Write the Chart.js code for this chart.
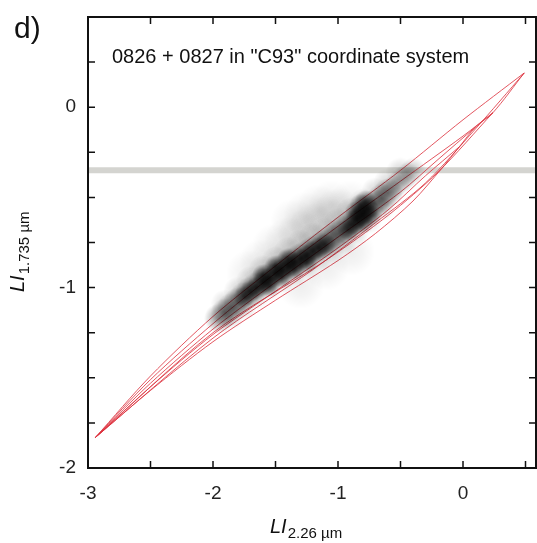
<!DOCTYPE html>
<html>
<head>
<meta charset="utf-8">
<script src="https://cdn.jsdelivr.net/npm/chart.js@4.4.1/dist/chart.umd.min.js"></script>
<style>
  body { margin: 0; background: #fff; }
</style>
</head>
<body>
<canvas id="lichart" width="537" height="543"></canvas>
<script>
// ticks (minor every 0.5 / 0.25, labels only on integers)
var xTicks = [-3, -2.5, -2, -1.5, -1, -0.5, 0, 0.5];
var yTicks = [-2, -1.75, -1.5, -1.25, -1, -0.75, -0.5, -0.25, 0, 0.25, 0.5];
var xLabelValues = [-3, -2, -1, 0];
var yLabelValues = [-2, -1, 0];

// grey reference level
var bandLevel = -0.35;

// red model grid
var modelCurve1 = [[-2.94, -1.83], [-2.5, -1.49], [-2.0, -1.16], [-1.5, -0.88], [-1.0, -0.61], [-0.5, -0.35], [0.0, -0.07], [0.49, 0.19]];
var modelCurve2 = [[-2.94, -1.83], [-2.5, -1.51], [-2.0, -1.2], [-1.5, -0.92], [-1.0, -0.66], [-0.5, -0.41], [0.0, -0.16], [0.24, -0.03]];
var modelCurve3 = [[-2.94, -1.83], [-2.5, -1.53], [-2.0, -1.23], [-1.5, -0.97], [-1.0, -0.72], [-0.5, -0.47], [-0.2, -0.29], [0.1, -0.11]];
var modelCurve4 = [[-2.94, -1.83], [-2.5, -1.55], [-2.0, -1.26], [-1.5, -1.02], [-1.0, -0.78], [-0.6, -0.57], [-0.3, -0.38], [-0.03, -0.22]];
var modelCurve5 = [[-2.94, -1.83], [-2.5, -1.57], [-2.0, -1.3], [-1.5, -1.07], [-1.0, -0.85], [-0.7, -0.7], [-0.4, -0.52], [-0.17, -0.34]];
var modelEdge = [[0.49, 0.19], [0.24, -0.03], [0.1, -0.11], [-0.03, -0.22], [-0.17, -0.34]];
var modelCross1 = [[0.49, 0.19], [0.1, -0.12], [-0.3, -0.42], [-0.7, -0.64], [-1.2, -0.9], [-2.0, -1.28], [-2.94, -1.83]];
var modelCross2 = [[0.24, -0.03], [-0.2, -0.36], [-0.6, -0.6], [-1.1, -0.85], [-2.0, -1.25], [-2.94, -1.83]];

// measurement cloud, sampled by eye along its ridge, its flanks and its faint upper tail
var cloudRidge = [[-1.95, -1.17], [-1.9, -1.14], [-1.85, -1.11], [-1.8, -1.08], [-1.75, -1.05], [-1.7, -1.02], [-1.65, -0.995],
  [-1.6, -0.97], [-1.55, -0.945], [-1.5, -0.92], [-1.45, -0.895], [-1.4, -0.875], [-1.35, -0.855], [-1.3, -0.835],
  [-1.25, -0.815], [-1.2, -0.795], [-1.15, -0.775], [-1.1, -0.755], [-1.05, -0.73], [-1.0, -0.705], [-0.95, -0.68],
  [-0.9, -0.655], [-0.85, -0.625], [-0.8, -0.595], [-0.75, -0.565], [-0.7, -0.535], [-0.65, -0.505], [-0.6, -0.475]];
var cloudTail = [[-0.56, -0.45], [-0.52, -0.425], [-0.48, -0.4], [-0.44, -0.375], [-0.4, -0.35]];
var cloudUpper = [[-1.9, -1.09], [-1.8, -1.02], [-1.7, -0.96], [-1.6, -0.9], [-1.5, -0.85], [-1.4, -0.8], [-1.3, -0.76],
  [-1.2, -0.72], [-1.1, -0.69], [-1.0, -0.64], [-0.9, -0.58], [-0.8, -0.53], [-0.7, -0.47], [-0.6, -0.42], [-0.5, -0.36]];
var cloudLower = [[-1.85, -1.16], [-1.75, -1.11], [-1.65, -1.05], [-1.55, -1.0], [-1.45, -0.96], [-1.35, -0.92], [-1.25, -0.88],
  [-1.15, -0.84], [-1.05, -0.8], [-0.95, -0.75], [-0.85, -0.69], [-0.75, -0.63], [-0.65, -0.56]];
var cloudHaze = [[-1.5, -0.78], [-1.4, -0.74], [-1.3, -0.7], [-1.2, -0.66], [-1.1, -0.62], [-1.0, -0.58], [-0.9, -0.54],
  [-1.35, -0.64], [-1.25, -0.6], [-1.15, -0.56], [-1.05, -0.54], [-1.6, -0.86], [-1.7, -0.92], [-1.3, -0.98],
  [-1.1, -0.88], [-0.9, -0.8]];
var cloudCore = [[-1.75, -1.05], [-1.7, -1.02], [-1.65, -1.0], [-1.6, -0.97], [-1.55, -0.95], [-1.5, -0.92], [-1.45, -0.9],
  [-1.4, -0.88], [-1.35, -0.86], [-1.3, -0.84], [-1.25, -0.82], [-1.2, -0.8], [-1.15, -0.78], [-1.1, -0.76],
  [-1.6, -0.93], [-1.5, -0.88], [-1.4, -0.84], [-1.55, -0.99], [-1.45, -0.94], [-1.35, -0.9], [-1.25, -0.86],
  [-0.92, -0.68], [-0.88, -0.65], [-0.85, -0.62], [-0.82, -0.6], [-0.79, -0.58], [-0.76, -0.56], [-0.8, -0.64],
  [-0.86, -0.58], [-0.82, -0.54], [-0.78, -0.52], [-0.74, -0.6]];

function pts(list) {
  return list.map(function (p) { return { x: p[0], y: p[1] }; });
}

// soft round sprite used as point style for the cloud
function blob(size, alpha) {
  var c = document.createElement('canvas');
  c.width = size; c.height = size;
  var g = c.getContext('2d');
  var grd = g.createRadialGradient(size / 2, size / 2, 0, size / 2, size / 2, size / 2);
  grd.addColorStop(0, 'rgba(0,0,0,' + alpha + ')');
  grd.addColorStop(0.5, 'rgba(0,0,0,' + (alpha * 0.6) + ')');
  grd.addColorStop(1, 'rgba(0,0,0,0)');
  g.fillStyle = grd;
  g.fillRect(0, 0, size, size);
  return c;
}

var red = 'rgba(220, 45, 58, 0.8)';
function curve(list) {
  return {
    data: pts(list), showLine: true, borderColor: red, borderWidth: 1,
    pointRadius: 0, tension: 0.3, order: 4
  };
}

var fontFamily = '"Liberation Sans", Arial, sans-serif';

var frame = {
  id: 'frame',
  afterDatasetsDraw: function (chart) {
    var ctx = chart.ctx, a = chart.chartArea;
    var xs = chart.scales.x, ys = chart.scales.y;
    ctx.save();
    ctx.strokeStyle = '#111';
    ctx.lineWidth = 2;
    ctx.strokeRect(a.left, a.top, a.right - a.left, a.bottom - a.top);
    ctx.lineWidth = 1.5;
    ctx.beginPath();
    xTicks.forEach(function (v) {
      var px = xs.getPixelForValue(v);
      ctx.moveTo(px, a.bottom); ctx.lineTo(px, a.bottom - 7);
      ctx.moveTo(px, a.top); ctx.lineTo(px, a.top + 7);
    });
    yTicks.forEach(function (v) {
      var py = ys.getPixelForValue(v);
      ctx.moveTo(a.left, py); ctx.lineTo(a.left + 7, py);
      ctx.moveTo(a.right, py); ctx.lineTo(a.right - 7, py);
    });
    ctx.stroke();

    ctx.fillStyle = '#111';
    ctx.textBaseline = 'alphabetic';
    ctx.textAlign = 'left';
    ctx.font = '30px ' + fontFamily;
    ctx.fillText('d)', 14, 38);
    ctx.font = '20px ' + fontFamily;
    ctx.fillText('0826 + 0827 in "C93" coordinate system', 112, 63);

    // x axis title
    ctx.font = 'italic 20px ' + fontFamily;
    var w1 = ctx.measureText('LI').width;
    ctx.fillText('LI', 270, 533);
    ctx.font = '15px ' + fontFamily;
    ctx.fillText('2.26 \u00b5m', 270 + w1 + 1, 538);

    // y axis title
    ctx.translate(24, 292);
    ctx.rotate(-Math.PI / 2);
    ctx.font = 'italic 20px ' + fontFamily;
    var w2 = ctx.measureText('LI').width;
    ctx.fillText('LI', 0, 0);
    ctx.font = '15px ' + fontFamily;
    ctx.fillText('1.735 \u00b5m', w2 + 1, 5);
    ctx.restore();
  }
};

new Chart(document.getElementById('lichart'), {
  type: 'scatter',
  data: {
    datasets: [
      { data: pts(cloudCore), pointStyle: blob(22, 0.55), pointRadius: 3, order: 1 },
      { data: pts(cloudRidge), pointStyle: blob(30, 0.4), pointRadius: 3, order: 2 },
      { data: pts(cloudTail), pointStyle: blob(26, 0.2), pointRadius: 3, order: 2 },
      { data: pts(cloudUpper), pointStyle: blob(30, 0.16), pointRadius: 3, order: 2 },
      { data: pts(cloudLower), pointStyle: blob(26, 0.14), pointRadius: 3, order: 2 },
      { data: pts(cloudHaze), pointStyle: blob(50, 0.07), pointRadius: 3, order: 3 },
      curve(modelCurve1), curve(modelCurve2), curve(modelCurve3), curve(modelCurve4),
      curve(modelCurve5), curve(modelEdge), curve(modelCross1), curve(modelCross2),
      {
        data: [{ x: -3, y: bandLevel }, { x: 0.6, y: bandLevel }], showLine: true,
        borderColor: 'rgba(205, 205, 200, 0.85)', borderWidth: 6, pointRadius: 0, order: 5
      }
    ]
  },
  options: {
    responsive: false,
    animation: false,
    layout: { autoPadding: false, padding: { top: 17, right: 1, left: 0, bottom: 0 } },
    plugins: { legend: { display: false }, tooltip: { enabled: false } },
    scales: {
      x: {
        type: 'linear', min: -3, max: 0.584,
        grid: { display: false }, border: { display: false },
        afterFit: function (s) { s.height = 75; s.paddingLeft = 0; s.paddingRight = 0; },
        ticks: {
          stepSize: 0.5, autoSkip: false, maxRotation: 0, padding: 6, color: '#222',
          font: { family: fontFamily, size: 19 },
          callback: function (v) { return xLabelValues.indexOf(v) >= 0 ? String(v) : ''; }
        }
      },
      y: {
        type: 'linear', min: -2, max: 0.5,
        grid: { display: false }, border: { display: false },
        afterFit: function (s) { s.width = 88; s.paddingTop = 0; s.paddingBottom = 0; },
        ticks: {
          stepSize: 0.25, autoSkip: false, padding: 4, color: '#222',
          font: { family: fontFamily, size: 19 },
          callback: function (v) { return yLabelValues.indexOf(v) >= 0 ? String(v) : ''; }
        }
      }
    }
  },
  plugins: [frame]
});
</script>
</body>
</html>
